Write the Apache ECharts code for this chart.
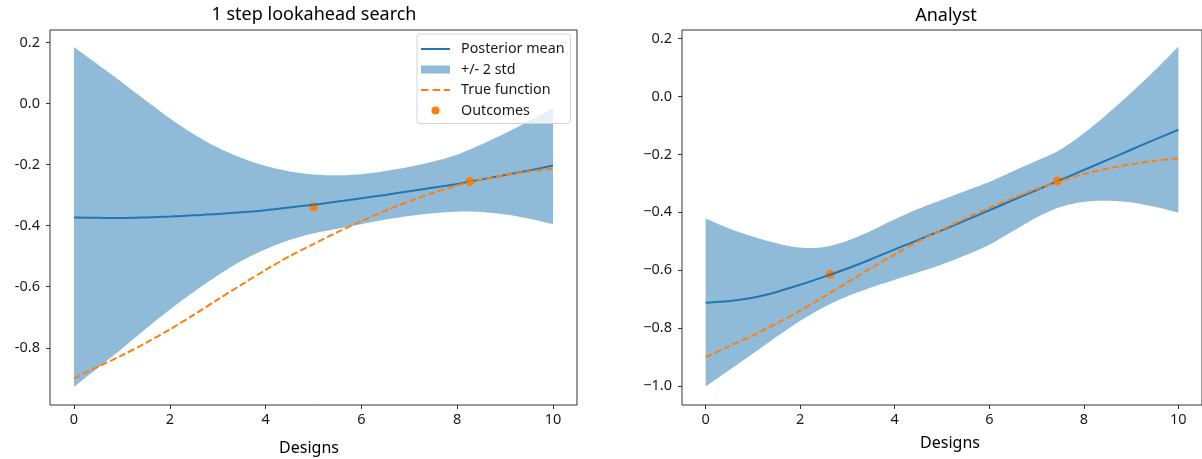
<!DOCTYPE html>
<html><head><meta charset="utf-8">
<script src="https://cdn.jsdelivr.net/npm/echarts@6/dist/echarts.min.js"></script>
<style>html,body{margin:0;padding:0;background:#fff;}#c{width:1202px;height:459px;}</style>
</head><body><div id="c"></div>
<script>
// ---- data ----
const xs = [0,0.5,1,1.5,2,2.5,3,3.5,4,4.5,5,5.5,6,6.5,7,7.5,8,8.5,9,9.5,10];
const trueFn = [-0.900,-0.862,-0.825,-0.784,-0.740,-0.692,-0.642,-0.593,-0.545,-0.500,-0.460,-0.421,-0.385,-0.351,-0.320,-0.292,-0.268,-0.249,-0.234,-0.222,-0.213];

const leftMean  = [-0.373,-0.374,-0.375,-0.373,-0.370,-0.366,-0.362,-0.356,-0.349,-0.340,-0.331,-0.321,-0.310,-0.299,-0.287,-0.275,-0.263,-0.249,-0.234,-0.219,-0.203];
const leftUpper = [0.185,0.128,0.070,0.010,-0.048,-0.100,-0.144,-0.178,-0.204,-0.222,-0.232,-0.235,-0.231,-0.221,-0.207,-0.190,-0.167,-0.134,-0.097,-0.057,-0.014];
const leftLower = [-0.928,-0.866,-0.803,-0.738,-0.675,-0.617,-0.563,-0.515,-0.477,-0.447,-0.425,-0.410,-0.395,-0.380,-0.368,-0.359,-0.354,-0.355,-0.363,-0.377,-0.395];
const leftOutX = [5.0, 8.26];
const leftOutY = [-0.338, -0.255];

const rightMean  = [-0.712,-0.706,-0.695,-0.675,-0.650,-0.623,-0.594,-0.562,-0.528,-0.495,-0.462,-0.428,-0.393,-0.358,-0.323,-0.289,-0.254,-0.219,-0.184,-0.149,-0.115];
const rightUpper = [-0.421,-0.456,-0.484,-0.507,-0.522,-0.520,-0.498,-0.464,-0.424,-0.388,-0.357,-0.326,-0.295,-0.258,-0.222,-0.184,-0.127,-0.060,0.013,0.090,0.172];
const rightLower = [-1.002,-0.945,-0.888,-0.830,-0.775,-0.728,-0.690,-0.660,-0.633,-0.607,-0.580,-0.548,-0.512,-0.465,-0.418,-0.382,-0.364,-0.360,-0.366,-0.381,-0.401];
const rightOutX = [2.63, 7.44];
const rightOutY = [-0.614, -0.292];

const xTicks = [0,2,4,6,8,10];
const leftYTicks = [-0.8,-0.6,-0.4,-0.2,0.0,0.2];
const rightYTicks = [-1.0,-0.8,-0.6,-0.4,-0.2,0.0,0.2];
const titles = ['1 step lookahead search', 'Analyst'];
const xName = 'Designs';

// ---- styling ----
const FONT = 'Noto Sans';
const BLUE = '#1f77b4', ORANGE = '#ff7f0e', BAND = 'rgba(31,119,180,0.5)';
const TXT = '#1a1a1a';

function pairs(x, y) { return x.map((v, i) => [v, y[i]]); }
function bandData(lo, up) { return xs.map((x, i) => [x, lo[i], up[i]]); }
// Catmull-Rom smoothing of pixel points (rendering only)
function smoothPts(p, n) {
  const out = [];
  const L = p.length;
  for (let i = 0; i < L - 1; i++) {
    const p0 = p[Math.max(i - 1, 0)], p1 = p[i], p2 = p[i + 1], p3 = p[Math.min(i + 2, L - 1)];
    for (let k = 0; k < n; k++) {
      const t = k / n, t2 = t * t, t3 = t2 * t;
      const f = (a, b, c, d) => 0.5 * ((2 * b) + (-a + c) * t + (2 * a - 5 * b + 4 * c - d) * t2 + (-a + 3 * b - 3 * c + d) * t3);
      out.push([f(p0[0], p1[0], p2[0], p3[0]), f(p0[1], p1[1], p2[1], p3[1])]);
    }
  }
  out.push(p[L - 1]);
  return out;
}
function bandSeries(idx, lo, up) {
  return {
    type: 'custom', name: '+/- 2 std', xAxisIndex: idx, yAxisIndex: idx,
    data: bandData(lo, up), encode: { x: 0, y: [1, 2] },
    itemStyle: { color: BAND }, clip: true, silent: true,
    renderItem: function (params, api) {
      if (params.dataIndex !== 0) return null;
      const u = xs.map((x, i) => api.coord([x, up[i]]));
      const l = xs.map((x, i) => api.coord([x, lo[i]])).reverse();
      const pts = smoothPts(u, 8).concat(smoothPts(l, 8));
      return { type: 'polygon', shape: { points: pts }, style: { fill: BAND } };
    }
  };
}
function lineSeries(idx, name, ys, color, dash) {
  return {
    type: 'line', name: name, xAxisIndex: idx, yAxisIndex: idx,
    data: pairs(xs, ys), symbol: 'none', smooth: 0.3, silent: true,
    lineStyle: { color: color, width: 2, type: dash ? [7, 3] : 'solid' },
    itemStyle: { color: color }
  };
}
function scatterSeries(idx, xv, yv) {
  return {
    type: 'scatter', name: 'Outcomes', xAxisIndex: idx, yAxisIndex: idx,
    data: pairs(xv, yv), symbol: 'circle', symbolSize: 9, silent: true,
    itemStyle: { color: ORANGE, opacity: 1 }
  };
}
function xAxis(idx) {
  return {
    gridIndex: idx, type: 'value', min: -0.5, max: 10.5,
    splitLine: { show: false },
    axisLine: { show: false, onZero: false },
    axisTick: { show: true, length: 4, lineStyle: { color: '#333', width: 1 }, customValues: xTicks },
    axisLabel: { customValues: xTicks, fontSize: 14.5, fontFamily: FONT, color: TXT, margin: 7 }
  };
}
function yAxis(idx, min, max, ticks, unicodeMinus) {
  return {
    gridIndex: idx, type: 'value', min: min, max: max,
    splitLine: { show: false },
    axisLine: { show: false, onZero: false },
    axisTick: { show: true, length: 4, lineStyle: { color: '#333', width: 1 }, customValues: ticks },
    axisLabel: {
      customValues: ticks, fontSize: 14.5, fontFamily: FONT, color: TXT, margin: 10,
      formatter: function (v) { const s = (Math.abs(v) < 1e-9 ? 0 : v).toFixed(1); return unicodeMinus ? s.replace('-', '\u2212') : s; }
    }
  };
}
function label(text, x, y, size) {
  return { type: 'text', x: x, y: y, silent: true,
    style: { text: text, textAlign: 'center', textVerticalAlign: 'middle', fontSize: size, fontFamily: FONT, fill: '#000' } };
}

const chart = echarts.init(document.getElementById('c'), null, { renderer: 'canvas' });
chart.setOption({
  animation: false,
  backgroundColor: '#fff',
  grid: [
    { left: 50, top: 30, width: 527, height: 375, show: true, borderColor: '#333', borderWidth: 1, backgroundColor: 'transparent' },
    { left: 682, top: 30, width: 527, height: 375, show: true, borderColor: '#333', borderWidth: 1, backgroundColor: 'transparent' }
  ],
  xAxis: [xAxis(0), xAxis(1)],
  yAxis: [yAxis(0, -0.9875, 0.2413, leftYTicks, false), yAxis(1, -1.0656, 0.2297, rightYTicks, true)],
  graphic: [
    label(titles[0], 314, 15, 18),
    label(titles[1], 946, 16, 18),
    label(xName, 309, 448, 16),
    label(xName, 950, 443, 16)
  ],
  legend: {
    data: [
      { name: 'Posterior mean', icon: 'path://M0 0M29 14M0 6L29 6L29 8L0 8Z' },
      { name: '+/- 2 std', icon: 'path://M0 0M29 14M0 3L29 3L29 11L0 11Z' },
      { name: 'True function', icon: 'path://M0 0M29 14M0 6L7.5 6L7.5 8L0 8ZM11.5 6L19 6L19 8L11.5 8ZM23 6L29 6L29 8L23 8Z' },
      { name: 'Outcomes', icon: 'path://M0 0M29 14M18.5 7A4 4 0 1 1 10.5 7A4 4 0 1 1 18.5 7Z' }
    ],
    orient: 'vertical', left: 417, top: 34,
    itemWidth: 29, itemHeight: 14, itemGap: 6.5,
    padding: [8, 6, 6, 4],
    backgroundColor: 'rgba(255,255,255,0.8)', borderColor: '#d4d4d4', borderWidth: 1, borderRadius: 3,
    selectedMode: false,
    itemStyle: { borderWidth: 0 },
    textStyle: { fontSize: 14.3, fontFamily: FONT, color: TXT, lineHeight: 14, padding: [0, 0, 0, 6] }
  },
  series: [
    bandSeries(0, leftLower, leftUpper),
    lineSeries(0, 'Posterior mean', leftMean, BLUE, false),
    lineSeries(0, 'True function', trueFn, ORANGE, true),
    scatterSeries(0, leftOutX, leftOutY),
    bandSeries(1, rightLower, rightUpper),
    lineSeries(1, 'Posterior mean', rightMean, BLUE, false),
    lineSeries(1, 'True function', trueFn, ORANGE, true),
    scatterSeries(1, rightOutX, rightOutY)
  ]
});
</script></body></html>
